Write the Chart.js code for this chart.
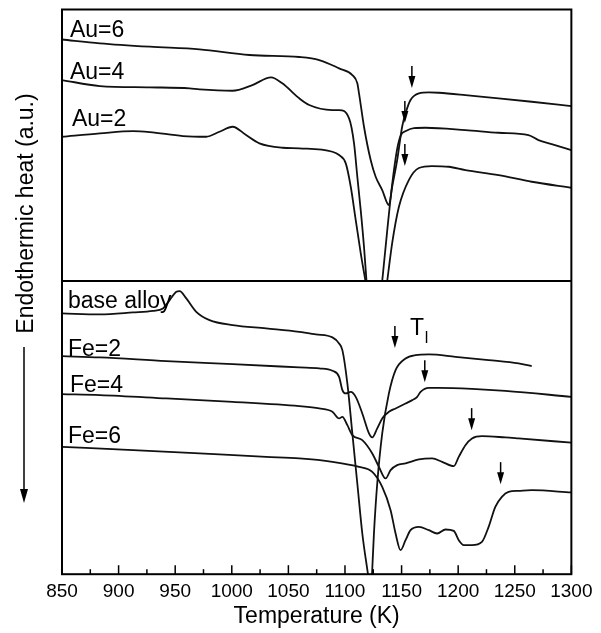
<!DOCTYPE html>
<html lang="en">
<head>
<meta charset="UTF-8">
<title>DTA curves - Au and Fe additions</title>
<script src="https://cdn.jsdelivr.net/npm/chart.js"></script>
<style>
    html, body { margin: 0; padding: 0; background: #fff; }
    #wrap { position: relative; width: 601px; height: 633px; }
</style>
</head>
<body>
<div id="wrap"><canvas id="dta"></canvas></div>
<script>
// heating curves: temperature (K) and heat signal (a.u.)
// null = curve runs off the panel
// upper panel
const au6T = [850, 883.5, 927.5, 971.5, 1015.6, 1059.6, 1077.2, 1094.8, 1106.5, 1110.9, 1112.4, 1116.8, 1122.7, 1127.1, 1132.9, 1138.8, 1141.7, 1146.1, 1150.5, 1153.5, 1157.9, 1165.3, 1174.1, 1182.9, 1206.4, 1235.7, 1265, 1300];
const au6H = [241.5, 237.7, 234.3, 231.7, 226, 224, 221, 212.7, 206, 197.7, 187.7, 154.3, 121, 104.3, 91, 76, 94.3, 121, 154.3, 167.7, 181, 187.7, 188.7, 188.3, 186, 182.7, 179.3, 175];

const au4T = [850, 883.5, 927.5, 962.7, 971.5, 1000.6, 1018.2, 1034.7, 1044.6, 1059.6, 1068.4, 1088.6, 1094.8, 1103.6, 1108, 1110.9, 1113.9, 1116.8, 1119, 1126, 1132.9, 1137.1, 1141.5, 1145.9, 1149.4, 1153.8, 1160.9, 1171.2, 1206.4, 1235.7, 1262.1, 1270.9, 1282.6, 1300];
const au4H = [201, 195, 193.7, 192.7, 191.7, 190.3, 196, 203.7, 197.7, 182.7, 176, 171, 171, 162.7, 137.7, 104.3, 71, 34.3, 0, null, 0, 48, 95, 131, 146, 150, 153, 153.3, 151, 148.3, 146, 141, 137, 131];

const au2T = [850, 883.5, 912.8, 927.5, 956.8, 977.4, 989.1, 1000.8, 1012.6, 1024.4, 1044.9, 1059.6, 1088.9, 1094.8, 1100.7, 1105.1, 1109.5, 1113.9, 1118.1, 1128, 1137.3, 1141.7, 1147.6, 1156.4, 1165.3, 1176.7, 1191.7, 1206.4, 1235.7, 1265, 1300];
const au2H = [144.3, 147.7, 150, 149, 145, 144.3, 149.3, 154.3, 146, 137.7, 133.3, 132.7, 129.3, 126, 117.7, 94.3, 61, 28, 0, null, 0, 38, 74, 101, 113, 115, 114.3, 111, 106, 99.3, 93.3];

// lower panel
const baseT = [850, 883.5, 912.8, 930.4, 939.2, 945.1, 951, 953.9, 959.8, 968.6, 980.3, 1000.8, 1030.3, 1059.6, 1074.3, 1088.9, 1094.8, 1097.7, 1102.1, 1106.5, 1110.9, 1115.3, 1120.3, 1122, 1123.9, 1125.6, 1128.5, 1132.9, 1138.8, 1144.7, 1153.5, 1162.3, 1174.1, 1197.6, 1226.9, 1253.3, 1265];
const baseH = [260.7, 259.7, 261.7, 263.3, 265.7, 274, 282.3, 283, 275.7, 262.3, 254, 249, 245.7, 242.3, 239.7, 236.7, 230.7, 224, 190.7, 140.7, 90.7, 40.7, 0, null, 0, 41, 90.7, 140.7, 180.7, 204, 215.7, 219, 219.7, 217.3, 214, 210.7, 208];

const fe2T = [850, 883.5, 942.2, 1000.8, 1059.6, 1077.2, 1088.9, 1094.8, 1097.7, 1100.7, 1105.1, 1109.5, 1115.3, 1121.2, 1124.1, 1128.5, 1132.9, 1138.8, 1144.7, 1153.5, 1159.4, 1163.8, 1166.8, 1174.1, 1182.9, 1212.2, 1241.6, 1300];
const fe2H = [218, 216.7, 213, 210, 206.7, 205.7, 203.3, 197.3, 184, 180.7, 182.3, 177.3, 160.7, 140.7, 136.7, 145.7, 155.7, 162.3, 165.7, 170.7, 174, 177.3, 182.3, 186.3, 186.3, 185.3, 183.3, 177.3];

const fe4T = [850, 883.5, 942.2, 1000.8, 1059.6, 1077.2, 1088.9, 1094.8, 1097.7, 1102.1, 1106.5, 1115.3, 1124.1, 1130, 1135.9, 1140.3, 1146.1, 1153.5, 1165.3, 1177, 1185.8, 1196.1, 1200.5, 1206.4, 1212.2, 1221, 1241.6, 1253.3, 1300];
const fe4H = [180, 179, 175.7, 172.3, 168, 165.7, 162.3, 155.7, 157.3, 149, 139, 134, 120.7, 107.3, 95.7, 104, 109, 110.7, 114.7, 115.7, 112.3, 108, 117.3, 129, 135.7, 138, 136.7, 135.7, 131.5];

const fe6T = [850, 912.8, 971.5, 1030.3, 1059.6, 1088.9, 1112.4, 1124.1, 1132.9, 1140.3, 1144.7, 1149.1, 1153.5, 1157.9, 1165.3, 1174.1, 1181.4, 1188.8, 1196.1, 1200.5, 1204.9, 1212.2, 1221, 1226.9, 1232.8, 1238.6, 1244.5, 1253.3, 1265, 1300];
const fe6H = [127.3, 124, 120.7, 117.3, 115.7, 112.3, 107.3, 102.3, 87.3, 64, 40.7, 24, 34, 44, 47.3, 44, 40.7, 44.7, 43.3, 34, 29, 29, 32.3, 47.3, 67.3, 77.3, 82.3, 83.3, 84, 81.7];

// liquidus markers (arrow tips)
const topArrowT = [1159.1, 1152.9, 1152.9];
const topArrowH = [193, 158, 115];
const botArrowT = [1144.1, 1170.5, 1211.9, 1237.5];
const botArrowH = [226, 192, 144, 90];

// curve labels
const topLabels = ['Au=6', 'Au=4', 'Au=2'];
const topLabelT = [857, 857, 858.8];
const topLabelH = [244, 202, 155];
const botLabels = ['base alloy', 'Fe=2', 'Fe=4', 'Fe=6'];
const botLabelT = [855.3, 855.3, 857, 855.3];
const botLabelH = [266, 218, 182, 131];

const FONT = '"Liberation Sans", Arial, Helvetica, sans-serif';
Chart.defaults.font.family = FONT;
Chart.defaults.color = '#000';

function curve(temps, heat, axis) {
    return {
        data: temps.map((t, i) => ({ x: t, y: heat[i] })),
        yAxisID: axis,
        borderColor: '#111',
        borderWidth: 1.8,
        pointRadius: 0,
        cubicInterpolationMode: 'monotone',
        spanGaps: false
    };
}

function arrow(ctx, x, tipY) {
    ctx.beginPath();
    ctx.moveTo(x, tipY - 22);
    ctx.lineTo(x, tipY - 10);
    ctx.stroke();
    ctx.beginPath();
    ctx.moveTo(x, tipY);
    ctx.lineTo(x - 3.5, tipY - 12);
    ctx.lineTo(x + 3.5, tipY - 12);
    ctx.closePath();
    ctx.fill();
}

const decorations = {
    id: 'decorations',
    afterDatasetsDraw(chart) {
        const { ctx, chartArea: a, scales } = chart;
        const x = scales.x, yT = scales.yTop, yB = scales.yBot;
        ctx.save();
        ctx.strokeStyle = '#000';
        ctx.fillStyle = '#000';

        // frame and panel divider
        ctx.lineWidth = 2;
        ctx.strokeRect(a.left, a.top, a.right - a.left, a.bottom - a.top);
        ctx.beginPath();
        ctx.moveTo(a.left, yT.bottom);
        ctx.lineTo(a.right, yT.bottom);
        ctx.stroke();

        // inward ticks, minor every 25 K
        ctx.lineWidth = 1.5;
        for (let v = x.min; v <= x.max; v += 25) {
            const px = x.getPixelForValue(v);
            const len = v % 50 === 0 ? 9 : 5;
            ctx.beginPath();
            ctx.moveTo(px, a.bottom);
            ctx.lineTo(px, a.bottom - len);
            ctx.stroke();
        }

        // arrows
        ctx.lineWidth = 1.5;
        topArrowT.forEach((t, i) => arrow(ctx, x.getPixelForValue(t), yT.getPixelForValue(topArrowH[i])));
        botArrowT.forEach((t, i) => arrow(ctx, x.getPixelForValue(t), yB.getPixelForValue(botArrowH[i])));

        // labels
        ctx.font = '23px ' + FONT;
        ctx.textAlign = 'left';
        ctx.textBaseline = 'alphabetic';
        topLabels.forEach((s, i) => ctx.fillText(s, x.getPixelForValue(topLabelT[i]), yT.getPixelForValue(topLabelH[i])));
        botLabels.forEach((s, i) => ctx.fillText(s, x.getPixelForValue(botLabelT[i]), yB.getPixelForValue(botLabelH[i])));

        // T_l
        const tx = x.getPixelForValue(1157.4), ty = yB.getPixelForValue(239);
        ctx.fillText('T', tx, ty);
        ctx.font = '16px ' + FONT;
        ctx.fillText('l', tx + ctx.measureText('T').width + 5, ty + 8);

        // y title with downward arrow
        ctx.font = '23px ' + FONT;
        ctx.save();
        ctx.translate(33, 213.5);
        ctx.rotate(-Math.PI / 2);
        ctx.textAlign = 'center';
        ctx.fillText('Endothermic heat (a.u.)', 0, 0);
        ctx.restore();
        ctx.lineWidth = 1.5;
        ctx.beginPath();
        ctx.moveTo(24, 347);
        ctx.lineTo(24, 492);
        ctx.stroke();
        ctx.beginPath();
        ctx.moveTo(24, 503);
        ctx.lineTo(20, 489);
        ctx.lineTo(28, 489);
        ctx.closePath();
        ctx.fill();

        ctx.restore();
    }
};

new Chart(document.getElementById('dta'), {
    type: 'line',
    data: {
        datasets: [
            curve(au6T, au6H, 'yTop'),
            curve(au4T, au4H, 'yTop'),
            curve(au2T, au2H, 'yTop'),
            curve(baseT, baseH, 'yBot'),
            curve(fe2T, fe2H, 'yBot'),
            curve(fe4T, fe4H, 'yBot'),
            curve(fe6T, fe6H, 'yBot')
        ]
    },
    options: {
        responsive: true,
        maintainAspectRatio: false,
        animation: false,
        layout: { padding: { left: 62, right: 28, top: 9.5, bottom: 0 } },
        plugins: {
            legend: { display: false },
            tooltip: { enabled: false }
        },
        scales: {
            x: {
                type: 'linear',
                min: 850,
                max: 1300,
                grid: { display: false, drawTicks: false },
                border: { display: false },
                ticks: {
                    stepSize: 50,
                    autoSkip: false,
                    maxRotation: 0,
                    padding: 8.5,
                    color: '#000',
                    font: { size: 19, lineHeight: 1 },
                    callback: (v) => String(v)
                },
                title: {
                    display: true,
                    text: 'Temperature (K)',
                    color: '#000',
                    font: { size: 23, lineHeight: 0.6 },
                    padding: { top: 0, bottom: 9 }
                }
            },
            yBot: {
                type: 'linear',
                display: false,
                min: 0,
                max: 293,
                stack: 'panels',
                stackWeight: 293,
                weight: 1
            },
            yTop: {
                type: 'linear',
                display: false,
                min: 0,
                max: 271.5,
                stack: 'panels',
                stackWeight: 271.5,
                weight: 2
            }
        }
    },
    plugins: [decorations]
});
</script>
</body>
</html>
